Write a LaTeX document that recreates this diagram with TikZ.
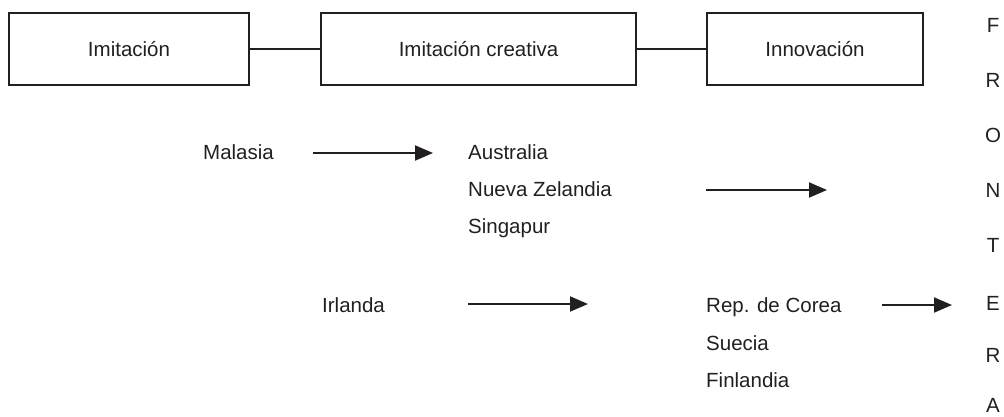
\documentclass[tikz,border=0pt]{standalone}
\usepackage{fontspec}
\setmainfont{Liberation Sans}
\usetikzlibrary{arrows.meta}
\definecolor{ink}{HTML}{231F20}
\begin{document}
\begin{tikzpicture}[x=1pt,y=-1pt,
  every node/.style={font=\fontsize{20.5}{24}\selectfont, text=ink},
  stage/.style={draw=ink, line width=1.3pt, minimum height=72pt, inner sep=0pt},
  lbl/.style={anchor=base west, inner sep=0pt},
  letter/.style={anchor=base, inner sep=0pt},
  link/.style={draw=ink, line width=1.3pt},
  flow/.style={draw=ink, line width=2pt, -{Triangle[length=18pt,width=15pt]}}]
\useasboundingbox (0,0) rectangle (1004,416);
% boxes
\node[stage, minimum width=240pt] (imit) at (129,49) {Imitación};
\node[stage, minimum width=315pt] (creat) at (478.5,49) {Imitación creativa};
\node[stage, minimum width=216pt] (innov) at (815,49) {Innovación};
\draw[link] (imit.east) -- (creat.west);
\draw[link] (creat.east) -- (innov.west);
% row 1
\node[lbl] (mal) at (203,159) {Malasia};
\node[lbl] (aus) at (468,159) {Australia};
\node[lbl] (nz) at (468,196) {Nueva Zelandia};
\node[lbl] (sing) at (468,233) {Singapur};
\coordinate (a1s) at (313,153);
\coordinate (a1e) at (433,153);
\draw[flow] (a1s) -- (a1e);
\coordinate (a2s) at (706,190);
\coordinate (a2e) at (827,190);
\draw[flow] (a2s) -- (a2e);
% row 2
\node[lbl] (irl) at (322,312) {Irlanda};
\node[lbl] (cor) at (706,312) {Rep. de Corea};
\node[lbl] (sue) at (706,350) {Suecia};
\node[lbl] (fin) at (706,387) {Finlandia};
\coordinate (a3s) at (468,304);
\coordinate (a3e) at (588,304);
\draw[flow] (a3s) -- (a3e);
\coordinate (a4s) at (882,305);
\coordinate (a4e) at (952,305);
\draw[flow] (a4s) -- (a4e);
% FRONTERA
\node[letter] (f1) at (993,32) {F};
\node[letter] (f2) at (993,87) {R};
\node[letter] (f3) at (993,142) {O};
\node[letter] (f4) at (993,197) {N};
\node[letter] (f5) at (993,252) {T};
\node[letter] (f6) at (993,310) {E};
\node[letter] (f7) at (993,362) {R};
\node[letter] (f8) at (993,412) {A};
\end{tikzpicture}
\end{document}
